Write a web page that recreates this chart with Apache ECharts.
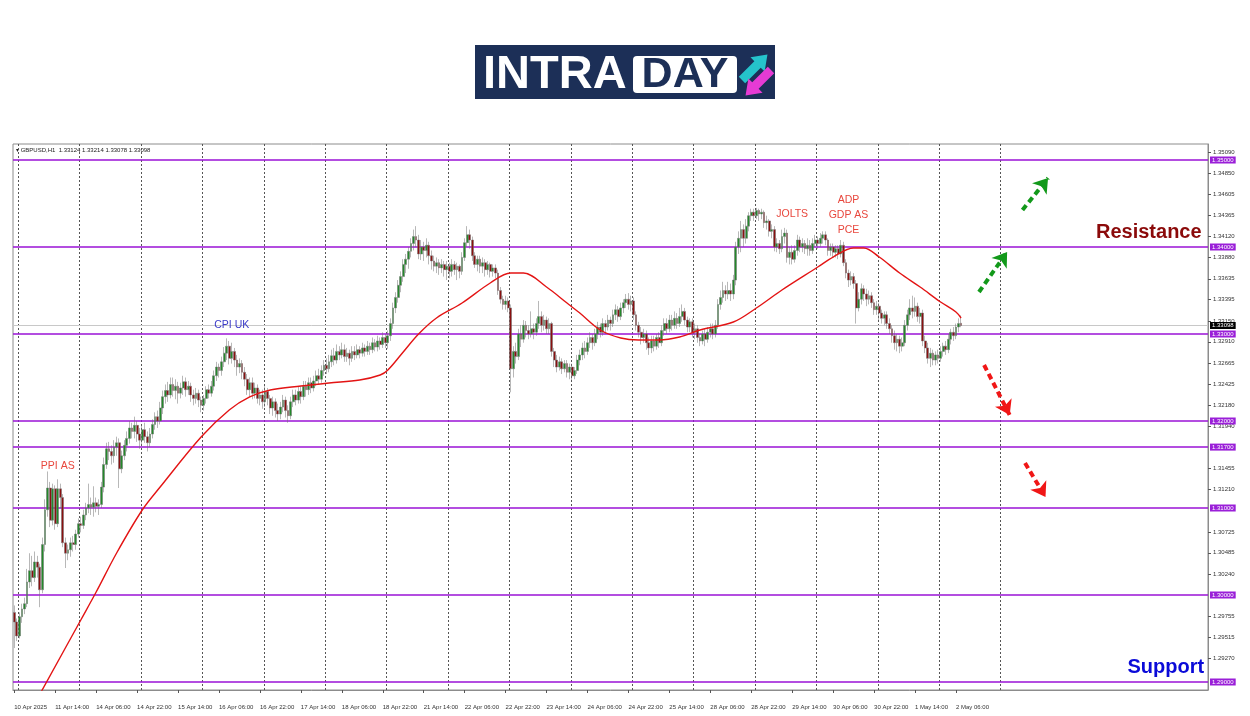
<!DOCTYPE html>
<html>
<head>
<meta charset="utf-8">
<script src="https://cdn.jsdelivr.net/npm/echarts@6/dist/echarts.min.js"></script>
<style>html,body{margin:0;padding:0;background:#fff}#chart{width:1250px;height:716px}</style>
</head>
<body>
<div id="chart"></div>
<script>
// ---------- DATA ----------
const symbolName = 'GBPUSD,H1';
const tradingDays = ['10 Apr','11 Apr','14 Apr','15 Apr','16 Apr','17 Apr','18 Apr','21 Apr','22 Apr','23 Apr','24 Apr','25 Apr','28 Apr','29 Apr','30 Apr','1 May','2 May','5 May','6 May','7 May','8 May'];
const firstLabel = '10 Apr 2025';

const opens = [
1.2980,1.2969,1.2953,1.2975,1.2984,1.2990,1.3015,1.3028,1.3020,1.3038,
1.3032,1.3006,1.3058,1.3098,1.3123,1.3086,1.3122,1.3082,1.3122,1.3112,
1.3060,1.3048,1.3052,1.3060,1.3058,1.3070,1.3082,1.3080,1.3092,1.3100,
1.3104,1.3101,1.3106,1.3102,1.3104,1.3124,1.3150,1.3168,1.3165,1.3160,
1.3170,1.3175,1.3145,1.3160,1.3172,1.3180,1.3192,
1.3188,1.3195,1.3185,1.3178,1.3190,1.3182,1.3175,1.3185,1.3196,1.3205,1.3200,1.3215,1.3228,1.3235,1.3230,
1.3242,1.3235,1.3240,1.3232,1.3238,1.3245,1.3236,1.3240,1.3230,1.3226,
1.3232,1.3224,1.3218,1.3226,1.3236,1.3232,1.3240,1.3252,1.3262,1.3258,
1.3268,1.3278,1.3286,1.3272,1.3280,1.3270,1.3262,1.3266,
1.3256,1.3248,1.3236,1.3244,1.3232,1.3238,1.3226,1.3230,1.3222,1.3234,
1.3226,1.3215,1.3222,1.3212,1.3208,1.3216,1.3224,1.3212,1.3206,1.3222,
1.3230,1.3224,1.3234,1.3228,1.3240,1.3236,1.3244,1.3238,1.3246,1.3252,
1.3248,1.3258,1.3264,1.3260,1.3268,1.3275,1.3270,1.3280,1.3276,1.3282,
1.3274,1.3278,1.3272,1.3280,1.3276,1.3282,1.3278,1.3284,1.3280,1.3286,
1.3282,1.3290,1.3285,1.3292,1.3288,
1.3296,1.3290,1.3298,1.3312,1.3330,1.3342,1.3356,1.3366,1.3380,1.3386,
1.3395,1.3404,1.3412,1.3408,1.3392,1.3400,1.3396,1.3402,1.3390,1.3384,
1.3378,1.3382,1.3376,1.3380,1.3374,1.3378,1.3372,1.3380,1.3374,1.3378,
1.3372,1.3388,1.3405,1.3414,1.3408,1.3390,1.3380,1.3386,1.3378,1.3382,
1.3374,1.3380,1.3372,1.3376,1.3370,1.3350,1.3340,1.3334,1.3338,1.3330,
1.3260,1.3280,1.3274,1.3300,1.3294,1.3310,1.3304,1.3300,1.3306,1.3302,
1.3312,1.3320,1.3310,1.3316,1.3306,1.3312,1.3280,1.3270,1.3262,1.3268,
1.3260,1.3266,1.3256,1.3262,1.3252,1.3258,1.3270,
1.3276,1.3284,1.3280,1.3290,1.3296,1.3290,1.3300,1.3308,1.3302,1.3312,
1.3308,1.3316,1.3312,1.3322,1.3328,1.3320,1.3330,1.3336,1.3340,1.3334,
1.3338,1.3322,1.3310,1.3302,1.3296,1.3300,1.3290,1.3284,1.3292,1.3286,
1.3296,1.3290,1.3304,1.3312,1.3306,1.3316,1.3310,1.3318,1.3312,1.3320,
1.3326,1.3316,1.3308,1.3314,1.3302,1.3306,1.3296,1.3292,1.3300,1.3294,
1.3302,1.3306,1.3300,1.3310,1.3334,1.3342,1.3350,1.3346,1.3350,1.3346,
1.3362,1.3400,1.3410,1.3420,1.3410,1.3424,1.3436,1.3440,1.3436,1.3442,
1.3438,1.3440,1.3428,1.3430,1.3418,1.3420,1.3400,1.3404,1.3398,1.3412,
1.3416,1.3388,1.3394,1.3386,1.3396,1.3408,1.3400,1.3404,1.3398,1.3402,
1.3396,1.3404,1.3408,1.3404,1.3410,1.3414,1.3408,1.3396,1.3400,1.3394,
1.3398,1.3392,1.3402,1.3382,1.3370,1.3362,1.3366,1.3358,1.3330,1.3340,
1.3352,1.3346,1.3340,1.3344,1.3336,1.3328,1.3332,1.3324,1.3318,1.3322,
1.3312,1.3306,1.3298,1.3290,1.3294,1.3286,1.3290,1.3310,1.3322,1.3330,
1.3326,1.3332,1.3320,1.3324,1.3292,1.3284,1.3272,1.3278,1.3270,1.3276,
1.3272,1.3280,1.3286,1.3282,1.3294,1.3302,1.3298,1.3308,1.33124
];
const closes = [
1.2969,1.2953,1.2975,1.2984,1.2990,1.3015,1.3028,1.3020,1.3038,1.3032,
1.3006,1.3058,1.3098,1.3123,1.3086,1.3122,1.3082,1.3122,1.3112,1.3060,
1.3048,1.3052,1.3060,1.3058,1.3070,1.3082,1.3080,1.3092,1.3100,1.3104,
1.3101,1.3106,1.3102,1.3104,1.3124,1.3150,1.3168,1.3165,1.3160,1.3170,
1.3175,1.3145,1.3160,1.3172,1.3180,1.3192,1.3188,
1.3195,1.3185,1.3178,1.3190,1.3182,1.3175,1.3185,1.3196,1.3205,1.3200,1.3215,1.3228,1.3235,1.3230,1.3242,
1.3235,1.3240,1.3232,1.3238,1.3245,1.3236,1.3240,1.3230,1.3226,1.3232,
1.3224,1.3218,1.3226,1.3236,1.3232,1.3240,1.3252,1.3262,1.3258,1.3268,
1.3278,1.3286,1.3272,1.3280,1.3270,1.3262,1.3266,1.3256,
1.3248,1.3236,1.3244,1.3232,1.3238,1.3226,1.3230,1.3222,1.3234,1.3226,
1.3215,1.3222,1.3212,1.3208,1.3216,1.3224,1.3212,1.3206,1.3222,1.3230,
1.3224,1.3234,1.3228,1.3240,1.3236,1.3244,1.3238,1.3246,1.3252,1.3248,
1.3258,1.3264,1.3260,1.3268,1.3275,1.3270,1.3280,1.3276,1.3282,1.3274,
1.3278,1.3272,1.3280,1.3276,1.3282,1.3278,1.3284,1.3280,1.3286,1.3282,
1.3290,1.3285,1.3292,1.3288,1.3296,
1.3290,1.3298,1.3312,1.3330,1.3342,1.3356,1.3366,1.3380,1.3386,1.3395,
1.3404,1.3412,1.3408,1.3392,1.3400,1.3396,1.3402,1.3390,1.3384,1.3378,
1.3382,1.3376,1.3380,1.3374,1.3378,1.3372,1.3380,1.3374,1.3378,1.3372,
1.3388,1.3405,1.3414,1.3408,1.3390,1.3380,1.3386,1.3378,1.3382,1.3374,
1.3380,1.3372,1.3376,1.3370,1.3350,1.3340,1.3334,1.3338,1.3330,1.3260,
1.3280,1.3274,1.3300,1.3294,1.3310,1.3304,1.3300,1.3306,1.3302,1.3312,
1.3320,1.3310,1.3316,1.3306,1.3312,1.3280,1.3270,1.3262,1.3268,1.3260,
1.3266,1.3256,1.3262,1.3252,1.3258,1.3270,1.3276,
1.3284,1.3280,1.3290,1.3296,1.3290,1.3300,1.3308,1.3302,1.3312,1.3308,
1.3316,1.3312,1.3322,1.3328,1.3320,1.3330,1.3336,1.3340,1.3334,1.3338,
1.3322,1.3310,1.3302,1.3296,1.3300,1.3290,1.3284,1.3292,1.3286,1.3296,
1.3290,1.3304,1.3312,1.3306,1.3316,1.3310,1.3318,1.3312,1.3320,1.3326,
1.3316,1.3308,1.3314,1.3302,1.3306,1.3296,1.3292,1.3300,1.3294,1.3302,
1.3306,1.3300,1.3310,1.3334,1.3342,1.3350,1.3346,1.3350,1.3346,1.3362,
1.3400,1.3410,1.3420,1.3410,1.3424,1.3436,1.3440,1.3436,1.3442,1.3438,
1.3440,1.3428,1.3430,1.3418,1.3420,1.3400,1.3404,1.3398,1.3412,1.3416,
1.3388,1.3394,1.3386,1.3396,1.3408,1.3400,1.3404,1.3398,1.3402,1.3396,
1.3404,1.3408,1.3404,1.3410,1.3414,1.3408,1.3396,1.3400,1.3394,1.3398,
1.3392,1.3402,1.3382,1.3370,1.3362,1.3366,1.3358,1.3330,1.3340,1.3352,
1.3346,1.3340,1.3344,1.3336,1.3328,1.3332,1.3324,1.3318,1.3322,1.3312,
1.3306,1.3298,1.3290,1.3294,1.3286,1.3290,1.3310,1.3322,1.3330,1.3326,
1.3332,1.3320,1.3324,1.3292,1.3284,1.3272,1.3278,1.3270,1.3276,1.3272,
1.3280,1.3286,1.3282,1.3294,1.3302,1.3298,1.3308,1.3312,1.33098
];
const lows = [
1.2939,1.2947,1.2950,1.2968,1.2978,1.2986,1.3008,1.3010,1.3015,1.3020,
1.2986,1.3002,1.3050,1.3090,1.3078,1.3080,1.3075,1.3078,1.3100,1.3055,
1.3031,1.3040,1.3044,1.3050,1.3052,1.3066,1.3072,1.3076,1.3086,1.3094,
1.3092,1.3090,1.3095,1.3092,1.3100,1.3118,1.3145,1.3155,1.3150,1.3152,
1.3160,1.3123,1.3140,1.3155,1.3165,1.3174,1.3180,
1.3180,1.3176,1.3168,1.3172,1.3175,1.3165,1.3170,1.3180,1.3190,1.3192,1.3196,1.3208,1.3220,1.3222,1.3226,
1.3228,1.3225,1.3220,1.3226,1.3230,1.3228,1.3230,1.3222,1.3218,1.3220,
1.3216,1.3210,1.3212,1.3220,1.3226,1.3228,1.3235,1.3246,1.3250,1.3252,
1.3262,1.3270,1.3265,1.3266,1.3262,1.3252,1.3255,1.3248,
1.3240,1.3230,1.3228,1.3225,1.3226,1.3220,1.3218,1.3214,1.3216,1.3218,
1.3208,1.3206,1.3204,1.3200,1.3202,1.3210,1.3204,1.3198,1.3202,1.3216,
1.3218,1.3220,1.3220,1.3224,1.3228,1.3230,1.3232,1.3234,1.3240,1.3242,
1.3244,1.3252,1.3254,1.3256,1.3262,1.3264,1.3266,1.3270,1.3272,1.3268,
1.3268,1.3264,1.3268,1.3270,1.3272,1.3272,1.3274,1.3274,1.3276,1.3276,
1.3278,1.3280,1.3280,1.3282,1.3284,
1.3284,1.3283,1.3292,1.3306,1.3324,1.3336,1.3348,1.3360,1.3370,1.3375,
1.3388,1.3396,1.3400,1.3386,1.3385,1.3384,1.3388,1.3380,1.3374,1.3372,
1.3370,1.3368,1.3370,1.3366,1.3362,1.3364,1.3366,1.3368,1.3362,1.3364,
1.3368,1.3384,1.3400,1.3398,1.3384,1.3376,1.3372,1.3370,1.3370,1.3366,
1.3368,1.3365,1.3366,1.3364,1.3345,1.3335,1.3328,1.3328,1.3325,1.3233,
1.3250,1.3266,1.3270,1.3285,1.3290,1.3296,1.3294,1.3296,1.3294,1.3298,
1.3306,1.3302,1.3304,1.3300,1.3300,1.3274,1.3262,1.3256,1.3258,1.3254,
1.3256,1.3250,1.3248,1.3247,1.3248,1.3254,1.3264,
1.3270,1.3272,1.3276,1.3284,1.3282,1.3286,1.3294,1.3296,1.3298,1.3300,
1.3304,1.3304,1.3308,1.3316,1.3314,1.3316,1.3324,1.3330,1.3328,1.3326,
1.3316,1.3304,1.3296,1.3288,1.3290,1.3282,1.3276,1.3278,1.3280,1.3282,
1.3284,1.3286,1.3298,1.3300,1.3302,1.3304,1.3306,1.3306,1.3308,1.3314,
1.3310,1.3302,1.3302,1.3296,1.3294,1.3290,1.3286,1.3288,1.3286,1.3290,
1.3296,1.3294,1.3296,1.3306,1.3328,1.3336,1.3338,1.3340,1.3338,1.3340,
1.3356,1.3392,1.3394,1.3400,1.3404,1.3418,1.3430,1.3430,1.3432,1.3430,
1.3432,1.3422,1.3420,1.3412,1.3410,1.3395,1.3394,1.3392,1.3394,1.3404,
1.3382,1.3380,1.3380,1.3382,1.3390,1.3394,1.3394,1.3392,1.3390,1.3390,
1.3392,1.3400,1.3398,1.3400,1.3404,1.3402,1.3390,1.3390,1.3388,1.3388,
1.3386,1.3388,1.3378,1.3364,1.3354,1.3356,1.3352,1.3312,1.3326,1.3334,
1.3338,1.3332,1.3334,1.3330,1.3322,1.3322,1.3316,1.3312,1.3310,1.3306,
1.3300,1.3290,1.3282,1.3280,1.3278,1.3280,1.3286,1.3304,1.3316,1.3318,
1.3320,1.3314,1.3312,1.3286,1.3278,1.3266,1.3262,1.3264,1.3264,1.3266,
1.3268,1.3274,1.3276,1.3278,1.3288,1.3292,1.3294,1.3302,1.33078
];
const highs = [
1.2988,1.2973,1.2980,1.2990,1.2997,1.3030,1.3048,1.3045,1.3050,1.3045,
1.3036,1.3066,1.3110,1.3142,1.3130,1.3128,1.3126,1.3133,1.3128,1.3116,
1.3066,1.3058,1.3066,1.3068,1.3075,1.3088,1.3090,1.3098,1.3106,1.3128,
1.3112,1.3125,1.3112,1.3110,1.3130,1.3158,1.3175,1.3176,1.3172,1.3178,
1.3182,1.3180,1.3166,1.3178,1.3188,1.3200,1.3198,
1.3205,1.3200,1.3192,1.3196,1.3198,1.3188,1.3192,1.3202,1.3210,1.3212,1.3222,1.3235,1.3242,1.3245,1.3250,
1.3250,1.3248,1.3245,1.3244,1.3252,1.3250,1.3246,1.3244,1.3236,1.3238,
1.3236,1.3228,1.3230,1.3240,1.3242,1.3246,1.3258,1.3268,1.3266,1.3274,
1.3285,1.3295,1.3292,1.3290,1.3284,1.3276,1.3272,1.3270,
1.3262,1.3254,1.3250,1.3250,1.3244,1.3242,1.3236,1.3236,1.3240,1.3238,
1.3230,1.3228,1.3226,1.3220,1.3222,1.3230,1.3228,1.3218,1.3228,1.3236,
1.3236,1.3240,1.3240,1.3246,1.3246,1.3250,1.3250,1.3252,1.3258,1.3260,
1.3264,1.3270,1.3272,1.3276,1.3282,1.3284,1.3288,1.3286,1.3290,1.3288,
1.3284,1.3282,1.3286,1.3286,1.3288,1.3286,1.3290,1.3288,1.3292,1.3290,
1.3296,1.3294,1.3298,1.3296,1.3302,
1.3300,1.3304,1.3318,1.3336,1.3348,1.3362,1.3372,1.3386,1.3392,1.3400,
1.3410,1.3420,1.3424,1.3414,1.3408,1.3406,1.3410,1.3406,1.3396,1.3390,
1.3388,1.3386,1.3386,1.3384,1.3384,1.3382,1.3386,1.3384,1.3382,1.3380,
1.3394,1.3410,1.3424,1.3420,1.3412,1.3394,1.3390,1.3390,1.3388,1.3386,
1.3384,1.3382,1.3380,1.3380,1.3374,1.3354,1.3344,1.3344,1.3342,1.3334,
1.3286,1.3290,1.3306,1.3310,1.3316,1.3315,1.3310,1.3326,1.3312,1.3318,
1.3338,1.3326,1.3322,1.3320,1.3318,1.3314,1.3284,1.3276,1.3274,1.3272,
1.3270,1.3270,1.3266,1.3266,1.3262,1.3276,1.3282,
1.3290,1.3292,1.3296,1.3302,1.3300,1.3306,1.3314,1.3312,1.3318,1.3316,
1.3322,1.3320,1.3328,1.3334,1.3332,1.3336,1.3340,1.3346,1.3347,1.3344,
1.3342,1.3326,1.3314,1.3308,1.3306,1.3304,1.3296,1.3298,1.3298,1.3300,
1.3302,1.3310,1.3318,1.3318,1.3322,1.3322,1.3326,1.3324,1.3330,1.3334,
1.3330,1.3320,1.3318,1.3318,1.3312,1.3310,1.3300,1.3304,1.3306,1.3308,
1.3312,1.3312,1.3316,1.3340,1.3350,1.3360,1.3356,1.3360,1.3358,1.3368,
1.3406,1.3418,1.3430,1.3426,1.3432,1.3440,1.3444,1.3444,1.3445,1.3444,
1.3444,1.3442,1.3436,1.3432,1.3426,1.3424,1.3410,1.3408,1.3420,1.3422,
1.3420,1.3400,1.3402,1.3402,1.3414,1.3412,1.3410,1.3408,1.3410,1.3408,
1.3410,1.3414,1.3412,1.3416,1.3418,1.3418,1.3410,1.3404,1.3404,1.3402,
1.3402,1.3408,1.3406,1.3386,1.3374,1.3372,1.3370,1.3362,1.3348,1.3358,
1.3356,1.3352,1.3350,1.3348,1.3340,1.3338,1.3336,1.3328,1.3326,1.3326,
1.3318,1.3310,1.3304,1.3300,1.3298,1.3296,1.3316,1.3328,1.3340,1.3344,
1.3342,1.3336,1.3330,1.3328,1.3298,1.3290,1.3284,1.3282,1.3280,1.3282,
1.3286,1.3290,1.3292,1.3300,1.3306,1.3308,1.3312,1.3318,1.33214
];

// moving average (bar index, price)
const maIndex = [10,26,32,40,50,57,73,84,92,100,112,123,135,143,146,152,158,165,175,186,194,199,208,216,221,229,237,244,252,260,268,281,290,300,314,320,328,332,338,346,354,362,368,370];
const maValue = [1.2886,1.29713,1.30034,1.30483,1.30977,1.31241,1.31816,1.32126,1.32276,1.32356,1.32402,1.32437,1.32471,1.32529,1.32586,1.32793,1.3300,1.33184,1.33356,1.33586,1.33701,1.33701,1.3354,1.33356,1.33241,1.33046,1.32954,1.32931,1.32931,1.32966,1.33046,1.33138,1.33299,1.33506,1.3377,1.33885,1.33989,1.33989,1.33885,1.33701,1.3354,1.33368,1.33253,1.33184];

const levels = [1.35, 1.34, 1.33, 1.32, 1.317, 1.31, 1.30, 1.29];
const lastPrice = 1.33098;
const priceTicks = [1.35090,1.34850,1.34605,1.34365,1.34120,1.33880,1.33635,1.33395,1.33150,1.32910,1.32665,1.32425,1.32180,1.31940,1.31455,1.31210,1.30725,1.30485,1.30240,1.29755,1.29515,1.29270];
const eventLabels = ['PPI AS', 'CPI UK', 'JOLTS', 'ADP\nGDP AS\nPCE'];
const zoneLabels = ['Resistance', 'Support'];

// ---------- BUILD ----------
const TOTAL_SLOTS = 467;
const categories = [];
for (let d = 0; d < tradingDays.length && categories.length < TOTAL_SLOTS; d++) {
  for (let h = (d === 0 ? 22 : 0); h < 24 && categories.length < TOTAL_SLOTS; h++) {
    categories.push(tradingDays[d] + ' ' + String(h).padStart(2, '0') + ':00');
  }
}
const lastIdx = closes.length - 1;
const candles = opens.map((o, i) => [o, closes[i], lows[i], highs[i]]);
const maData = maIndex.map((x, i) => [x, maValue[i]]);

const chart = echarts.init(document.getElementById('chart'));
const FONT = 'Liberation Sans, Arial, sans-serif';
const labelShown = (i) => i % 16 === 0 && i <= lastIdx;

function arrow(x0, y0, x1, y1, color) {
  const ls = { color: color, width: 4, type: [6, 4], cap: 'butt' };
  return [{ coord: [x0, y0], lineStyle: ls, itemStyle: { color: color } }, { coord: [x1, y1], lineStyle: ls, itemStyle: { color: color } }];
}
function note(idx, price, text, color, extra) {
  return {
    coord: [idx, price], symbolSize: 0,
    label: Object.assign({ show: true, formatter: text, color: color, fontSize: 10.5, fontFamily: FONT, lineHeight: 15, position: 'inside' }, extra || {})
  };
}

const option = {
  animation: false,
  backgroundColor: '#ffffff',
  grid: { left: 13, right: 42, top: 144, bottom: 26, show: true, borderColor: '#8c8c8c', borderWidth: 1, outerBoundsMode: 'none', containLabel: false },
  xAxis: {
    type: 'category', data: categories, boundaryGap: true,
    axisLine: { show: true, lineStyle: { color: '#8c8c8c' } },
    axisTick: { show: true, alignWithLabel: true, interval: labelShown, length: 3, lineStyle: { color: '#555' } },
    axisLabel: { interval: labelShown, align: 'left', fontSize: 6, color: '#333', fontFamily: FONT, margin: 14,
      formatter: (v, i) => (i === 0 ? firstLabel : v) },
    splitLine: { show: true, interval: (i) => i >= 2 && (i - 2) % 24 === 0 && i <= 386, lineStyle: { color: '#555', type: [2, 2], width: 1 } }
  },
  yAxis: {
    type: 'value', position: 'right', min: 1.28908, max: 1.35184, scale: true,
    axisLine: { show: true, lineStyle: { color: '#8c8c8c' } },
    axisTick: { show: true, customValues: priceTicks, length: 3, lineStyle: { color: '#555' } },
    axisLabel: { customValues: priceTicks, formatter: (v) => v.toFixed(5), fontSize: 6, color: '#333', fontFamily: FONT, margin: 5 },
    splitLine: { show: false }
  },
  series: [
    {
      type: 'candlestick', name: symbolName, data: candles, barWidth: 2.3, z: 3,
      itemStyle: { color: '#23892a', color0: '#8a1010', borderColor: '#707070', borderColor0: '#707070', borderWidth: 0.5 },
      markLine: {
        symbol: 'none', silent: true, animation: false, z: 2, precision: 5,
        lineStyle: { color: '#9a12d6', width: 1.6, type: 'solid' },
        label: { show: true, position: 'end', distance: 2, formatter: (p) => Number(p.value).toFixed(5), color: '#fff', backgroundColor: '#9a1fd8', fontSize: 6, fontFamily: FONT, padding: [1, 2, 0, 2] },
        data: levels.map(v => ({ yAxis: v })).concat([{ yAxis: lastPrice, lineStyle: { color: '#c8c8c8', width: 1 }, label: { backgroundColor: '#000' } }])
      },
      markPoint: {
        symbol: 'circle', symbolSize: 0, silent: true, animation: false,
        data: [
          note(17, 1.31483, eventLabels[0], '#e8473d'),
          note(85, 1.33103, eventLabels[1], '#3a3ac8'),
          note(304, 1.34379, eventLabels[2], '#e8473d'),
          note(326, 1.34368, eventLabels[3], '#e8473d'),
          note(464, 1.34172, zoneLabels[0], '#8b0a0a', { position: 'left', distance: 0, fontSize: 20, fontWeight: 'bold' }),
          note(465, 1.29172, zoneLabels[1], '#0a0ad8', { position: 'left', distance: 0, fontSize: 20, fontWeight: 'bold' })
        ]
      }
    },
    {
      type: 'line', name: 'MA', data: maData, smooth: 0.35, symbol: 'none', z: 4, clip: true,
      lineStyle: { color: '#e31414', width: 1.4 },
      markLine: {
        silent: true, animation: false, symbol: ['none', 'arrow'], symbolSize: 14, precision: 5,
        label: { show: false },
        data: [
          arrow(377, 1.33483, 388, 1.33943, '#12991a'),
          arrow(394, 1.34425, 404, 1.34793, '#12991a'),
          arrow(379, 1.32644, 389, 1.32069, '#f01616'),
          arrow(395, 1.31517, 403, 1.31126, '#f01616')
        ]
      }
    }
  ],
  graphic: [
    { type: 'text', left: 16, top: 147, style: { text: '\u25BE ' + symbolName + '  ' + [opens[lastIdx], highs[lastIdx], lows[lastIdx], closes[lastIdx]].map(v => v.toFixed(5)).join(' '), fontSize: 6, fill: '#222', fontFamily: FONT } },
    { type: 'rect', shape: { x: 475, y: 45, width: 300, height: 54 }, style: { fill: '#1c2f57' } },
    { type: 'text', x: 483, y: 75, style: { text: 'INTRA', fill: '#ffffff', font: 'bold 47px "Liberation Sans", Arial, sans-serif', textVerticalAlign: 'middle', textAlign: 'left' } },
    { type: 'rect', shape: { x: 633, y: 56, width: 104, height: 37, r: 4 }, style: { fill: '#ffffff' } },
    { type: 'text', x: 685, y: 75, style: { text: 'DAY', fill: '#1c2f57', font: 'bold 43px "Liberation Sans", Arial, sans-serif', textVerticalAlign: 'middle', textAlign: 'center' } },
    { type: 'polygon', x: 742, y: 80, rotation: Math.PI / 4, shape: { points: [[0, -4.5], [22, -4.5], [22, -10], [36, 0], [22, 10], [22, 4.5], [0, 4.5]] }, style: { fill: '#25c3cb' } },
    { type: 'polygon', x: 771, y: 70, rotation: Math.PI * 5 / 4, shape: { points: [[0, -4.5], [22, -4.5], [22, -10], [36, 0], [22, 10], [22, 4.5], [0, 4.5]] }, style: { fill: '#e63bd4' } }
  ]
};
chart.setOption(option);
</script>
</body>
</html>
